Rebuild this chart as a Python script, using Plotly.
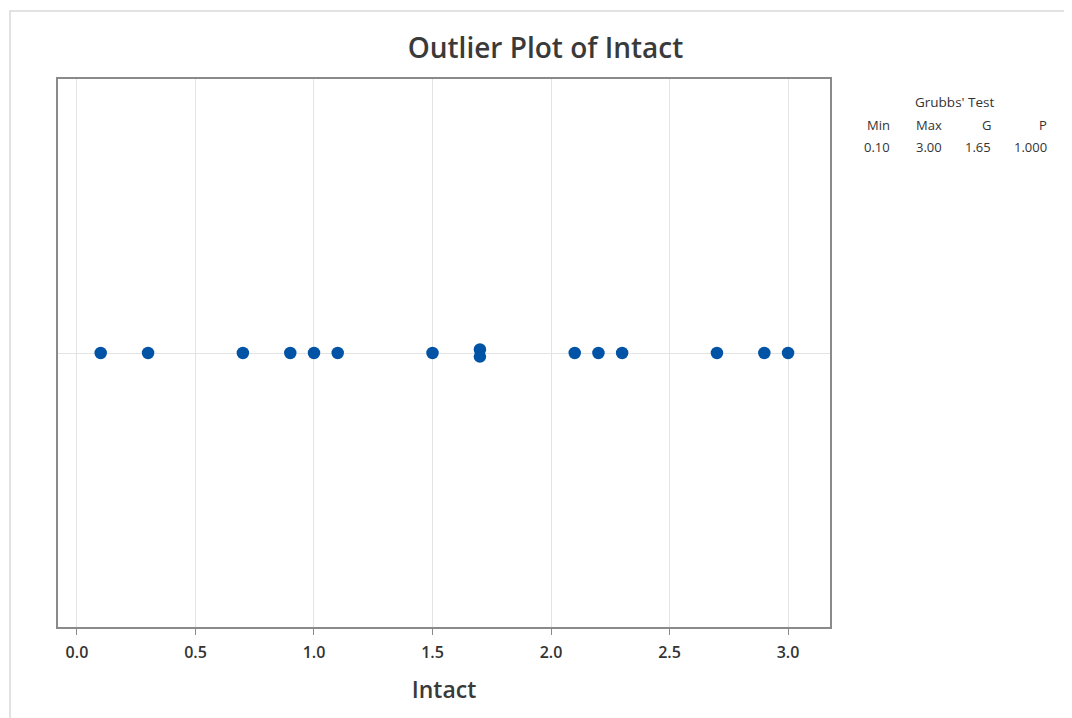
import plotly.graph_objects as go

# Data
intact_values = [0.1, 0.3, 0.7, 0.9, 1.0, 1.1, 1.5, 1.7, 1.7, 2.1, 2.2, 2.3, 2.7, 2.9, 3.0]
stack_offsets = [0, 0, 0, 0, 0, 0, 0, 0.0065, -0.0065, 0, 0, 0, 0, 0, 0]
x_ticks = [0.0, 0.5, 1.0, 1.5, 2.0, 2.5, 3.0]
x_tick_labels = ["0.0", "0.5", "1.0", "1.5", "2.0", "2.5", "3.0"]
grubbs_headers = ["Min", "Max", "G", "P"]
grubbs_values = ["0.10", "3.00", "1.65", "1.000"]

FONT = "Open Sans"
OFF = 8  # page body offset
W, H = 1064, 710
PL, PR, PT, PB = 58 - OFF, 830 - OFF, 79 - OFF, 627 - OFF

y_vals = [0.5 + o for o in stack_offsets]

fig = go.Figure()
fig.add_trace(go.Scatter(
    x=intact_values, y=y_vals, mode="markers",
    marker=dict(color="#0053A5", size=12.5, line=dict(width=0)),
    showlegend=False, hoverinfo="x",
))

fig.update_layout(
    width=W, height=H,
    margin=dict(l=PL, r=W - PR, t=PT, b=H - PB, pad=0),
    paper_bgcolor="white", plot_bgcolor="white",
    font=dict(family=FONT, color="#333333"),
    title=dict(text="Outlier Plot of Intact", x=(545.5 - OFF) / W, xanchor="center",
               y=1 - (48 - OFF) / H, yanchor="middle",
               font=dict(family=FONT, size=28, color="#3a3a3a", weight=600)),
    xaxis=dict(
        range=[-0.08, 3.177], tickvals=x_ticks, ticktext=x_tick_labels,
        showgrid=True, gridcolor="#e3e3e3", gridwidth=1,
        showline=True, linecolor="#8a8a8a", linewidth=1.5, mirror=True,
        ticks="outside", ticklen=6, tickcolor="#8a8a8a", tickwidth=1,
        ticklabelstandoff=4,
        tickfont=dict(family=FONT, size=16, color="#333333", weight=600),
        title=dict(text="Intact", font=dict(family=FONT, size=23, color="#3a3a3a", weight=600), standoff=20),
        zeroline=False,
    ),
    yaxis=dict(
        range=[0, 1], tickvals=[0.5], showticklabels=False,
        showgrid=True, gridcolor="#e3e3e3", gridwidth=1,
        showline=True, linecolor="#8a8a8a", linewidth=1.5, mirror=True,
        ticks="", zeroline=False,
    ),
)

def px_x(px):
    return (px - OFF - PL) / (PR - PL)

def px_y(py):
    return (PB - (py - OFF)) / (PB - PT)

# outer light frame (extends off-canvas right/bottom)
fig.add_shape(type="rect", xref="paper", yref="paper",
              x0=px_x(10), x1=1.4, y0=-0.3, y1=px_y(11),
              line=dict(color="#d9d9d9", width=1.5), fillcolor="rgba(0,0,0,0)", layer="below")

# Grubbs' test table
fig.add_annotation(text="Grubbs' Test", xref="paper", yref="paper",
                   x=px_x(955), y=px_y(102), xanchor="center", yanchor="middle",
                   showarrow=False, font=dict(family=FONT, size=13.5, color="#333333"))
col_right = [892, 944, 993, 1049]
for h, v, cr in zip(grubbs_headers, grubbs_values, col_right):
    fig.add_annotation(text=h, xref="paper", yref="paper", x=px_x(cr), y=px_y(125),
                       xanchor="right", yanchor="middle", showarrow=False,
                       font=dict(family=FONT, size=13, color="#333333"))
    fig.add_annotation(text=v, xref="paper", yref="paper", x=px_x(cr), y=px_y(147),
                       xanchor="right", yanchor="middle", showarrow=False,
                       font=dict(family=FONT, size=13, color="#333333"))

fig.write_html("out.html")
